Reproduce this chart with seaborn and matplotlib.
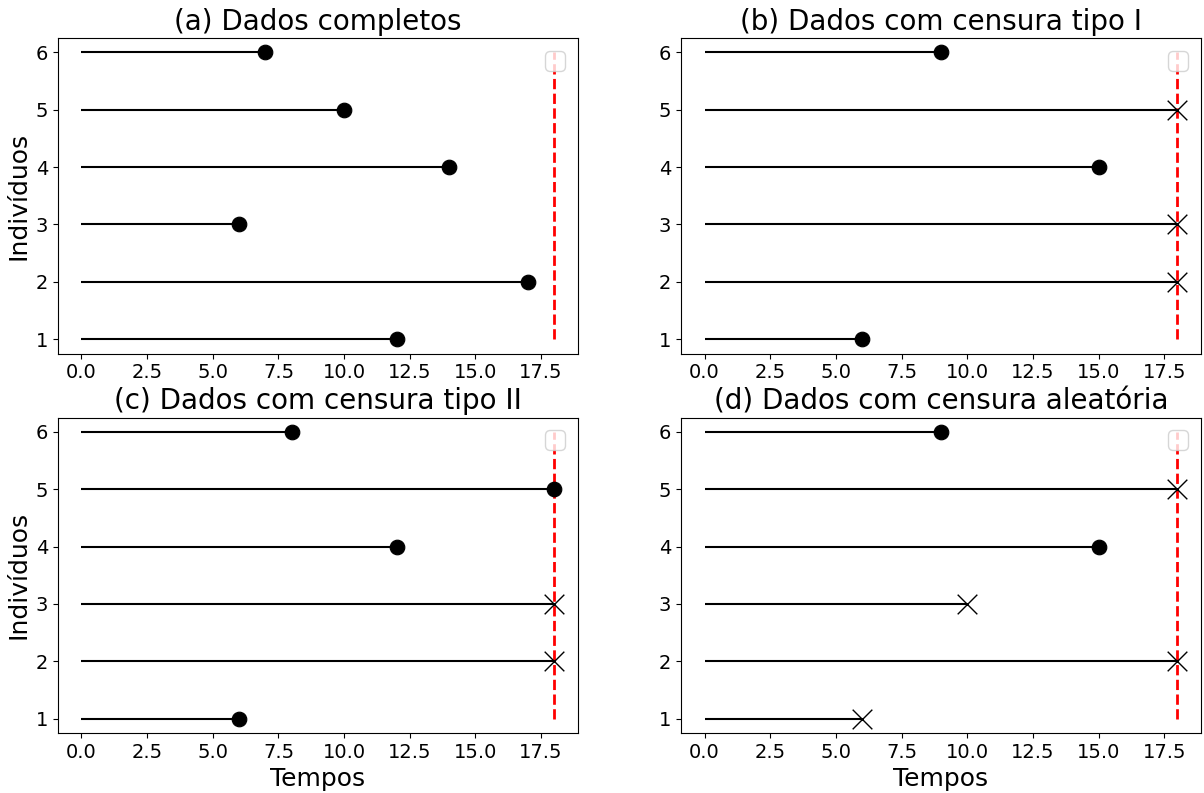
import numpy as np
import pandas as pd
import seaborn as sns
import matplotlib.pyplot as plt
import warnings

warnings.filterwarnings("ignore")

# ==============================
#  DATA
# ==============================
individuos = [1, 2, 3, 4, 5, 6]
titulos = [
    "(a) Dados completos",
    "(b) Dados com censura tipo I",
    "(c) Dados com censura tipo II",
    "(d) Dados com censura aleatória",
]
tempos = [
    [12, 17, 6, 14, 10, 7],
    [6, 18, 18, 15, 18, 9],
    [6, 18, 18, 12, 18, 8],
    [6, 18, 10, 15, 18, 9],
]
# 1 = falha (ponto), 0 = censura (x)
falha = [
    [1, 1, 1, 1, 1, 1],
    [1, 0, 0, 1, 0, 1],
    [1, 0, 0, 1, 1, 1],
    [0, 0, 0, 1, 0, 1],
]
tempo_limite = 18

# ==============================
#  PLOT
# ==============================
fig, axes = plt.subplots(2, 2, figsize=(12.04, 7.93), dpi=100)

for k, ax in enumerate(axes.flat):
    df = pd.DataFrame({"ind": individuos, "t": tempos[k], "falha": falha[k]})
    ax.hlines(df["ind"], 0, df["t"], color="black", linewidth=1.5)
    sns.scatterplot(data=df[df["falha"] == 1], x="t", y="ind", ax=ax,
                    marker="o", color="black", s=110, edgecolor="black", zorder=3)
    sns.scatterplot(data=df[df["falha"] == 0], x="t", y="ind", ax=ax,
                    marker="x", color="black", s=200, linewidth=1, zorder=3)
    ax.vlines(tempo_limite, min(individuos), max(individuos), color="red",
              linestyle="--", linewidth=2)
    ax.legend(loc="upper right", fontsize=18)
    ax.set_title(titulos[k], fontsize=20)
    ax.set_yticks(individuos)
    ax.tick_params(labelsize=14)
    ax.set_xlabel("Tempos" if k >= 2 else "", fontsize=18)
    ax.set_ylabel("Indivíduos" if k % 2 == 0 else "", fontsize=18)

plt.subplots_adjust(left=0.048, right=0.9975, top=0.952, bottom=0.0757,
                    wspace=0.198, hspace=0.203)
plt.savefig("out.png", dpi=100)
